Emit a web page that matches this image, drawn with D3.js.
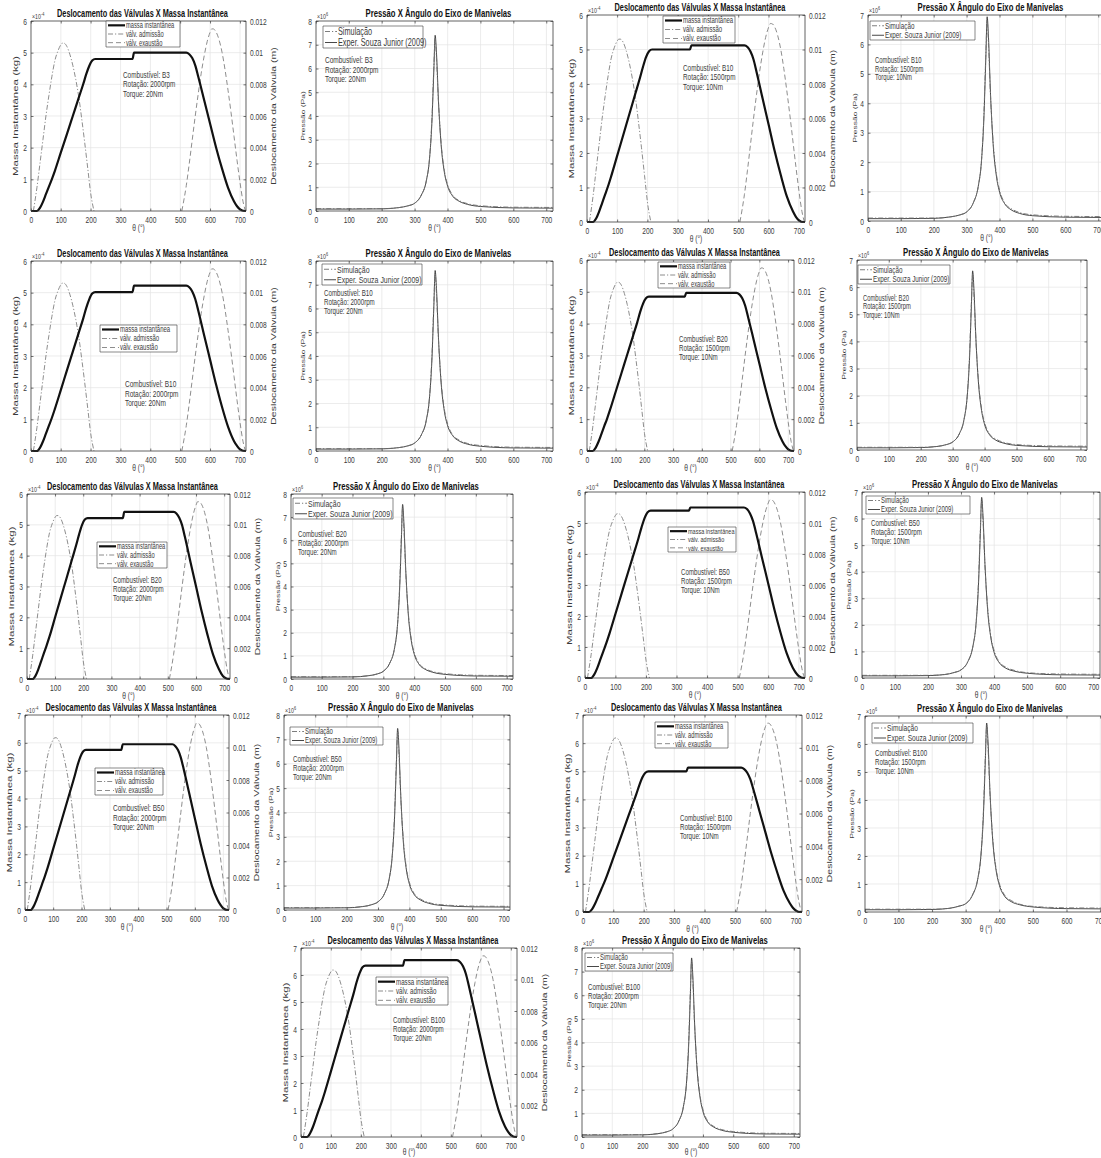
<!DOCTYPE html>
<html>
<head>
<meta charset="utf-8">
<script src="https://cdn.jsdelivr.net/npm/d3@7"></script>
<style>
  body { margin: 0; background: #fff; }
  svg { font-family: "Liberation Sans", Arial, Helvetica, sans-serif; }
</style>
</head>
<body>
<script>
//tick values shared by all subplots
var xTicks = [0, 100, 200, 300, 400, 500, 600, 700];
var valveTicks = [0, 0.002, 0.004, 0.006, 0.008, 0.01, 0.012];

//valve lift (m) - same cams in every run
var intakeTheta  = [8, 20, 30, 40, 50, 60, 70, 80, 90, 100, 105, 110, 120, 130, 140, 150, 160, 170, 180, 190, 200, 211];
var intakeLift   = [0, 0.0015, 0.003, 0.0045, 0.006, 0.0073, 0.0085, 0.0095, 0.0101, 0.0105, 0.0106, 0.0106, 0.0104, 0.0099, 0.0092, 0.0083, 0.0072, 0.0058, 0.0043, 0.0027, 0.0011, 0];
var exhaustTheta = [505, 520, 530, 540, 550, 560, 570, 580, 590, 600, 605, 610, 620, 630, 640, 650, 660, 670, 680, 690, 700, 710, 718];
var exhaustLift  = [0, 0.0016, 0.003, 0.0045, 0.006, 0.0074, 0.0087, 0.0098, 0.0107, 0.0113, 0.0115, 0.0115, 0.0113, 0.0108, 0.0100, 0.0089, 0.0076, 0.0062, 0.0047, 0.0032, 0.0018, 0.0006, 0];

//instantaneous mass (x10^-4 kg)
var massTheta = [0, 20, 30, 40, 50, 60, 70, 80, 100, 120, 140, 160, 175, 185, 195, 205, 215, 340, 345, 520, 530, 540, 550, 560, 580, 600, 620, 640, 660, 680, 690, 700, 715, 720];
var massB3_2000   = [0, 0, 0.1, 0.29, 0.53, 0.77, 1.01, 1.27, 1.85, 2.42, 3.0, 3.58, 4.01, 4.32, 4.58, 4.75, 4.8, 4.8, 5.0, 5.0, 4.95, 4.83, 4.6, 4.25, 3.5, 2.75, 2.0, 1.33, 0.73, 0.3, 0.15, 0.05, 0, 0];
var massB10_1500  = [0, 0, 0.1, 0.3, 0.55, 0.8, 1.05, 1.33, 1.93, 2.53, 3.13, 3.73, 4.18, 4.5, 4.78, 4.95, 5.0, 5.0, 5.12, 5.12, 5.07, 4.94, 4.71, 4.35, 3.58, 2.82, 2.05, 1.36, 0.74, 0.31, 0.15, 0.05, 0, 0];
var massB10_2000  = [0, 0, 0.1, 0.3, 0.55, 0.8, 1.05, 1.33, 1.93, 2.54, 3.14, 3.74, 4.19, 4.52, 4.79, 4.97, 5.02, 5.02, 5.22, 5.22, 5.17, 5.04, 4.8, 4.44, 3.65, 2.87, 2.09, 1.38, 0.76, 0.31, 0.16, 0.05, 0, 0];
var massB20_1500  = [0, 0, 0.1, 0.29, 0.53, 0.78, 1.02, 1.29, 1.87, 2.45, 3.03, 3.61, 4.05, 4.37, 4.63, 4.8, 4.85, 4.85, 4.97, 4.97, 4.92, 4.8, 4.57, 4.22, 3.48, 2.73, 1.99, 1.32, 0.72, 0.3, 0.15, 0.05, 0, 0];
var massB20_2000  = [0, 0, 0.1, 0.31, 0.57, 0.84, 1.1, 1.38, 2.01, 2.64, 3.26, 3.89, 4.36, 4.7, 4.99, 5.17, 5.22, 5.22, 5.42, 5.42, 5.37, 5.23, 4.99, 4.61, 3.79, 2.98, 2.17, 1.44, 0.79, 0.33, 0.16, 0.05, 0, 0];
var massB50_1500  = [0, 0, 0.11, 0.32, 0.59, 0.86, 1.13, 1.43, 2.08, 2.73, 3.38, 4.02, 4.51, 4.86, 5.16, 5.35, 5.4, 5.4, 5.5, 5.5, 5.45, 5.31, 5.06, 4.68, 3.85, 3.03, 2.2, 1.46, 0.8, 0.33, 0.17, 0.06, 0, 0];
var massB50_2000  = [0, 0, 0.12, 0.35, 0.63, 0.92, 1.21, 1.52, 2.21, 2.9, 3.59, 4.28, 4.8, 5.18, 5.49, 5.69, 5.75, 5.75, 5.95, 5.95, 5.89, 5.74, 5.47, 5.06, 4.17, 3.27, 2.38, 1.58, 0.86, 0.36, 0.18, 0.06, 0, 0];
var massB100_1500 = [0, 0, 0.1, 0.3, 0.55, 0.8, 1.05, 1.33, 1.93, 2.53, 3.13, 3.73, 4.18, 4.5, 4.78, 4.95, 5.0, 5.0, 5.13, 5.13, 5.08, 4.95, 4.72, 4.36, 3.59, 2.82, 2.05, 1.36, 0.74, 0.31, 0.15, 0.05, 0, 0];
var massB100_2000 = [0, 0, 0.13, 0.38, 0.7, 1.02, 1.33, 1.68, 2.44, 3.21, 3.97, 4.73, 5.3, 5.72, 6.06, 6.29, 6.35, 6.35, 6.55, 6.55, 6.48, 6.32, 6.03, 5.57, 4.59, 3.6, 2.62, 1.74, 0.95, 0.39, 0.2, 0.07, 0, 0];

//cylinder pressure (x10^6 Pa): experiment and simulation
var presTheta = [0, 100, 200, 250, 280, 300, 320, 335, 345, 352, 358, 362, 366, 372, 380, 390, 400, 415, 435, 460, 500, 600, 720];
var expB3_2000   = [0.08, 0.08, 0.09, 0.14, 0.22, 0.33, 0.67, 1.26, 2.22, 3.7, 5.92, 7.4, 6.66, 4.66, 2.81, 1.63, 1.04, 0.63, 0.41, 0.28, 0.19, 0.13, 0.12];
var simB3_2000   = [0.1, 0.1, 0.1, 0.14, 0.22, 0.33, 0.67, 1.26, 2.22, 3.85, 6.07, 7.25, 6.44, 4.59, 2.89, 1.7, 1.11, 0.67, 0.44, 0.31, 0.22, 0.16, 0.15];
var expB10_1500  = [0.08, 0.08, 0.09, 0.14, 0.21, 0.31, 0.62, 1.18, 2.08, 3.47, 5.55, 6.94, 6.25, 4.37, 2.64, 1.53, 0.97, 0.59, 0.38, 0.26, 0.18, 0.13, 0.12];
var simB10_1500  = [0.1, 0.1, 0.1, 0.14, 0.21, 0.31, 0.62, 1.18, 2.08, 3.61, 5.69, 6.8, 6.04, 4.3, 2.71, 1.6, 1.04, 0.62, 0.42, 0.29, 0.21, 0.16, 0.15];
var expB10_2000  = [0.08, 0.08, 0.09, 0.14, 0.22, 0.34, 0.68, 1.29, 2.28, 3.8, 6.08, 7.6, 6.84, 4.79, 2.89, 1.67, 1.06, 0.65, 0.42, 0.29, 0.2, 0.13, 0.12];
var simB10_2000  = [0.1, 0.1, 0.1, 0.14, 0.22, 0.34, 0.68, 1.29, 2.28, 3.95, 6.23, 7.45, 6.61, 4.71, 2.96, 1.75, 1.14, 0.68, 0.46, 0.32, 0.23, 0.16, 0.15];
var expB20_1500  = [0.08, 0.08, 0.09, 0.13, 0.2, 0.3, 0.59, 1.12, 1.98, 3.3, 5.28, 6.6, 5.94, 4.16, 2.51, 1.45, 0.92, 0.56, 0.36, 0.25, 0.17, 0.12, 0.11];
var simB20_1500  = [0.1, 0.1, 0.1, 0.13, 0.2, 0.3, 0.59, 1.12, 1.98, 3.43, 5.41, 6.47, 5.74, 4.09, 2.57, 1.52, 0.99, 0.59, 0.4, 0.28, 0.2, 0.15, 0.14];
var expB20_2000  = [0.08, 0.08, 0.09, 0.14, 0.22, 0.34, 0.68, 1.28, 2.27, 3.78, 6.04, 7.55, 6.8, 4.76, 2.87, 1.66, 1.06, 0.64, 0.42, 0.29, 0.2, 0.13, 0.12];
var simB20_2000  = [0.1, 0.1, 0.1, 0.14, 0.22, 0.34, 0.68, 1.28, 2.27, 3.93, 6.19, 7.4, 6.57, 4.68, 2.94, 1.74, 1.13, 0.68, 0.45, 0.32, 0.23, 0.16, 0.15];
var expB50_1500  = [0.08, 0.08, 0.09, 0.13, 0.21, 0.31, 0.61, 1.16, 2.04, 3.4, 5.44, 6.8, 6.12, 4.28, 2.58, 1.5, 0.95, 0.58, 0.37, 0.26, 0.18, 0.12, 0.11];
var simB50_1500  = [0.1, 0.1, 0.1, 0.13, 0.21, 0.31, 0.61, 1.16, 2.04, 3.54, 5.58, 6.66, 5.92, 4.22, 2.65, 1.56, 1.02, 0.61, 0.41, 0.29, 0.2, 0.15, 0.14];
var expB50_2000  = [0.08, 0.08, 0.09, 0.14, 0.22, 0.34, 0.67, 1.27, 2.24, 3.73, 5.96, 7.45, 6.71, 4.69, 2.83, 1.64, 1.04, 0.63, 0.41, 0.28, 0.19, 0.13, 0.12];
var simB50_2000  = [0.1, 0.1, 0.1, 0.14, 0.22, 0.34, 0.67, 1.27, 2.24, 3.87, 6.11, 7.3, 6.48, 4.62, 2.91, 1.71, 1.12, 0.67, 0.45, 0.31, 0.22, 0.16, 0.15];
var expB100_1500 = [0.08, 0.08, 0.09, 0.13, 0.21, 0.3, 0.61, 1.15, 2.03, 3.38, 5.4, 6.75, 6.08, 4.25, 2.57, 1.49, 0.95, 0.57, 0.37, 0.26, 0.18, 0.12, 0.11];
var simB100_1500 = [0.1, 0.1, 0.1, 0.13, 0.21, 0.3, 0.61, 1.15, 2.03, 3.51, 5.54, 6.62, 5.87, 4.19, 2.63, 1.55, 1.01, 0.61, 0.41, 0.28, 0.2, 0.15, 0.14];
var expB100_2000 = [0.08, 0.08, 0.09, 0.14, 0.22, 0.34, 0.68, 1.29, 2.27, 3.79, 6.06, 7.58, 6.82, 4.78, 2.88, 1.67, 1.06, 0.64, 0.42, 0.29, 0.2, 0.13, 0.12];
var simB100_2000 = [0.1, 0.1, 0.1, 0.14, 0.22, 0.34, 0.68, 1.29, 2.27, 3.94, 6.22, 7.43, 6.59, 4.7, 2.96, 1.74, 1.14, 0.68, 0.45, 0.32, 0.23, 0.16, 0.15];

//subplot layout (page px): box = [left, top, right, bottom], leg = [x, y, w, h], ann = [x, first line y, line step]
var panels = [
  {kind: "mass", box: [31, 21, 246, 211],   ymax: 6, mass: massB3_2000,   fuel: "B3",   rpm: "2000", nm: "20", leg: [106, 21, 74, 26],  ann: [123, 75, 9.3]},
  {kind: "pres", box: [316, 21, 553, 211],  ymax: 8, exp: expB3_2000, sim: simB3_2000, fuel: "B3", rpm: "2000", nm: "20", leg: [323, 26, 100, 22], ann: [325, 60, 9.5]},
  {kind: "mass", box: [587, 15, 805, 222],  ymax: 6, mass: massB10_1500,  fuel: "B10",  rpm: "1500", nm: "10", leg: [663, 16, 72, 27],  ann: [683, 68, 9.3]},
  {kind: "pres", box: [868, 15, 1105, 221], ymax: 7, exp: expB10_1500, sim: simB10_1500, fuel: "B10", rpm: "1500", nm: "10", leg: [870, 21, 105, 19], ann: [875, 60, 8.6]},

  {kind: "mass", box: [31, 261, 246, 451],  ymax: 6, mass: massB10_2000,  fuel: "B10",  rpm: "2000", nm: "20", leg: [100, 325, 77, 27], ann: [125, 384, 9.5]},
  {kind: "pres", box: [316, 261, 553, 451], ymax: 8, exp: expB10_2000, sim: simB10_2000, fuel: "B10", rpm: "2000", nm: "20", leg: [322, 264, 100, 21], ann: [324, 293, 9]},
  {kind: "mass", box: [587, 260, 794, 451], ymax: 6, mass: massB20_1500,  fuel: "B20",  rpm: "1500", nm: "10", leg: [658, 262, 72, 26], ann: [679, 339, 9]},
  {kind: "pres", box: [857, 260, 1087, 450],ymax: 7, exp: expB20_1500, sim: simB20_1500, fuel: "B20", rpm: "1500", nm: "10", leg: [858, 265, 92, 19], ann: [863, 298, 8.5]},

  {kind: "mass", box: [27, 494, 230, 679],  ymax: 6, mass: massB20_2000,  fuel: "B20",  rpm: "2000", nm: "20", leg: [97, 542, 70, 26],  ann: [113, 580, 9]},
  {kind: "pres", box: [291, 494, 513, 679], ymax: 8, exp: expB20_2000, sim: simB20_2000, fuel: "B20", rpm: "2000", nm: "20", leg: [293, 498, 100, 21], ann: [298, 534, 9]},
  {kind: "mass", box: [585, 492, 805, 678], ymax: 6, mass: massB50_1500,  fuel: "B50",  rpm: "1500", nm: "10", leg: [668, 527, 68, 25], ann: [681, 572, 9]},
  {kind: "pres", box: [862, 492, 1100, 678],ymax: 7, exp: expB50_1500, sim: simB50_1500, fuel: "B50", rpm: "1500", nm: "10", leg: [866, 496, 104, 18], ann: [871, 523, 9]},

  {kind: "mass", box: [25, 715, 229, 910],  ymax: 7, mass: massB50_2000,  fuel: "B50",  rpm: "2000", nm: "20", leg: [95, 768, 68, 27],  ann: [113, 808, 9.5]},
  {kind: "pres", box: [284, 715, 510, 910], ymax: 8, exp: expB50_2000, sim: simB50_2000, fuel: "B50", rpm: "2000", nm: "20", leg: [290, 727, 93, 18], ann: [293, 759, 9]},
  {kind: "mass", box: [583, 715, 802, 912], ymax: 7, mass: massB100_1500, fuel: "B100", rpm: "1500", nm: "10", leg: [655, 722, 73, 26], ann: [680, 818, 9]},
  {kind: "pres", box: [865, 716, 1107, 912],ymax: 7, exp: expB100_1500, sim: simB100_1500, fuel: "B100", rpm: "1500", nm: "10", leg: [872, 723, 101, 20], ann: [875, 753, 9]},

  {kind: "mass", box: [301, 948, 517, 1137],ymax: 7, mass: massB100_2000, fuel: "B100", rpm: "2000", nm: "20", leg: [376, 977, 72, 28], ann: [393, 1020, 9]},
  {kind: "pres", box: [582, 948, 800, 1137],ymax: 8, exp: expB100_2000, sim: simB100_2000, fuel: "B100", rpm: "2000", nm: "20", leg: [585, 953, 88, 18], ann: [588, 987, 9]}
];

//the source figure is squeezed horizontally, so everything is drawn wide and scaled back
var sx = 0.7;
var ink = "#3a3a3a", gridColor = "#e4e4e4";
function X(v) { return v / sx; }

var svg = d3.select("body").append("svg").attr("width", 1101).attr("height", 1158);
svg.append("rect").attr("width", 1101).attr("height", 1158).attr("fill", "#fff");
var root = svg.append("g").attr("transform", "scale(" + sx + ",1)");

function styleAxis(g, fs) {
  g.attr("font-family", null).attr("font-size", fs);
  g.select(".domain").remove();
  g.selectAll("line").attr("stroke", ink).attr("stroke-width", 0.7).attr("vector-effect", "non-scaling-stroke");
  g.selectAll("text").attr("fill", ink);
}

function strokeStyle(sel, st) {
  sel.attr("fill", "none").attr("stroke", st.color).attr("stroke-width", st.width)
     .attr("stroke-dasharray", st.dash || null).attr("vector-effect", "non-scaling-stroke");
}

var massStyle = {color: "#111", width: 2.2};
var intakeStyle = {color: "#808080", width: 0.9, dash: "5,2,1.2,2"};
var exhaustStyle = {color: "#808080", width: 0.9, dash: "5,3"};
var simStyle = {color: "#6e6e6e", width: 0.9, dash: "5,2,1.2,2"};
var expStyle = {color: "#333", width: 0.9};

panels.forEach(function(p) {
  var g = root.append("g");
  var l = X(p.box[0]), t = p.box[1], r = X(p.box[2]), b = p.box[3];
  var x = d3.scaleLinear().domain([0, 720]).range([l, r]);
  var y = d3.scaleLinear().domain([0, p.ymax]).range([b, t]);
  var yTicks = y.ticks(p.ymax);

  //grid
  g.append("g").selectAll("line").data(xTicks.slice(1)).join("line")
    .attr("x1", x).attr("x2", x).attr("y1", t).attr("y2", b)
    .attr("stroke", gridColor).attr("stroke-width", 0.7).attr("vector-effect", "non-scaling-stroke");
  g.append("g").selectAll("line").data(yTicks.slice(1, -1)).join("line")
    .attr("x1", l).attr("x2", r).attr("y1", y).attr("y2", y)
    .attr("stroke", gridColor).attr("stroke-width", 0.7).attr("vector-effect", "non-scaling-stroke");

  var items;
  if (p.kind === "mass") {
    var y2 = d3.scaleLinear().domain([0, 0.012]).range([b, t]);
    var valveLine = d3.line().x(function(d) { return x(d[0]); }).y(function(d) { return y2(d[1]); }).curve(d3.curveMonotoneX);
    var massLine = d3.line().x(function(d) { return x(d[0]); }).y(function(d) { return y(d[1]); }).curve(d3.curveMonotoneX);
    g.append("path").attr("d", valveLine(d3.zip(intakeTheta, intakeLift))).call(strokeStyle, intakeStyle);
    g.append("path").attr("d", valveLine(d3.zip(exhaustTheta, exhaustLift))).call(strokeStyle, exhaustStyle);
    g.append("path").attr("d", massLine(d3.zip(massTheta, p.mass))).call(strokeStyle, massStyle);

    g.append("g").attr("transform", "translate(" + r + ",0)")
      .call(d3.axisRight(y2).tickValues(valveTicks).tickFormat(function(d) { return String(d); })
        .tickSizeInner(-X(2.5)).tickSizeOuter(0).tickPadding(X(4)))
      .call(styleAxis, 9.5);
    items = [
      {label: "massa instantânea", st: massStyle},
      {label: "válv. admissão", st: intakeStyle},
      {label: "válv. exaustão", st: exhaustStyle}
    ];
  } else {
    var presLine = d3.line().x(function(d) { return x(d[0]); }).y(function(d) { return y(d[1]); }).curve(d3.curveMonotoneX);
    g.append("path").attr("d", presLine(d3.zip(presTheta, p.exp))).call(strokeStyle, expStyle);
    g.append("path").attr("d", presLine(d3.zip(presTheta, p.sim))).call(strokeStyle, simStyle);

    g.append("g").attr("transform", "translate(" + r + ",0)")
      .call(d3.axisRight(y).tickValues(yTicks).tickFormat("").tickSizeInner(-X(2.5)).tickSizeOuter(0))
      .call(styleAxis, 9.5);
    items = [
      {label: "Simulação", st: simStyle},
      {label: "Exper. Souza Junior (2009)", st: expStyle}
    ];
  }

  //axes
  g.append("g").attr("transform", "translate(0," + b + ")")
    .call(d3.axisBottom(x).tickValues(xTicks).tickSizeInner(-2.5).tickSizeOuter(0).tickPadding(5))
    .call(styleAxis, 9.5);
  g.append("g").attr("transform", "translate(0," + t + ")")
    .call(d3.axisTop(x).tickValues(xTicks).tickFormat("").tickSizeInner(-2.5).tickSizeOuter(0))
    .call(styleAxis, 9.5);
  g.append("g").attr("transform", "translate(" + l + ",0)")
    .call(d3.axisLeft(y).tickValues(yTicks).tickFormat(function(d) { return String(d); })
      .tickSizeInner(-X(2.5)).tickSizeOuter(0).tickPadding(X(4)))
    .call(styleAxis, 9.5);

  g.append("rect").attr("x", l).attr("y", t).attr("width", r - l).attr("height", b - t)
    .attr("fill", "none").attr("stroke", ink).attr("stroke-width", 0.8).attr("vector-effect", "non-scaling-stroke");

  //legend
  var lx = p.leg[0], ly = p.leg[1], lw = p.leg[2], lh = p.leg[3];
  var sample = p.kind === "mass" ? 17 : 12;
  var rowH = lh / items.length;
  g.append("rect").attr("x", X(lx)).attr("y", ly).attr("width", X(lw)).attr("height", lh)
    .attr("fill", "#fff").attr("stroke", ink).attr("stroke-width", 0.6).attr("vector-effect", "non-scaling-stroke");
  items.forEach(function(it, i) {
    var cy = ly + rowH * (i + 0.5);
    g.append("line").attr("x1", X(lx + 2)).attr("x2", X(lx + 2 + sample)).attr("y1", cy).attr("y2", cy).call(strokeStyle, it.st);
    g.append("text").attr("x", X(lx + 3 + sample)).attr("y", cy).attr("dy", "0.35em")
      .attr("font-size", rowH * 0.95).attr("fill", ink).text(it.label);
  });

  //run conditions
  var annLines = ["Combustível: " + p.fuel, "Rotação: " + p.rpm + "rpm", "Torque: " + p.nm + "Nm"];
  annLines.forEach(function(s, i) {
    g.append("text").attr("x", X(p.ann[0])).attr("y", p.ann[1] + i * p.ann[2]).attr("dy", "0.35em")
      .attr("font-size", p.ann[2] * 0.98).attr("fill", ink).text(s);
  });

  //titles and labels
  var title = p.kind === "mass" ? "Deslocamento das Válvulas X Massa Instantânea" : "Pressão X Ângulo do Eixo de Manivelas";
  g.append("text").attr("x", (l + r) / 2 + X(4)).attr("y", t - 4).attr("text-anchor", "middle")
    .attr("font-size", p.kind === "mass" ? 10.5 : 11).attr("font-weight", "bold").attr("fill", "#111").text(title);

  var ex = g.append("text").attr("x", l + X(1)).attr("y", t - 2).attr("font-size", 7.5).attr("fill", ink).text("×10");
  ex.append("tspan").attr("dy", -3).attr("font-size", 5.5).text(p.kind === "mass" ? "-4" : "6");

  g.append("text").attr("x", (l + r) / 2).attr("y", Math.min(b + 20, 1155)).attr("text-anchor", "middle")
    .attr("font-size", 9.5).attr("fill", ink).text("θ (°)");

  var midY = (t + b) / 2;
  if (p.kind === "mass") {
    g.append("text").attr("transform", "translate(" + X(p.box[0] - 16) + "," + midY + ") rotate(-90)")
      .attr("text-anchor", "middle").attr("dy", "0.35em").attr("font-size", 11.5).attr("fill", ink)
      .text("Massa Instantânea (kg)");
    g.append("text").attr("transform", "translate(" + X(p.box[2] + 27) + "," + midY + ") rotate(-90)")
      .attr("text-anchor", "middle").attr("dy", "0.35em").attr("font-size", 10.5).attr("fill", ink)
      .text("Deslocamento da Válvula (m)");
  } else {
    g.append("text").attr("transform", "translate(" + X(p.box[0] - 13) + "," + midY + ") rotate(-90)")
      .attr("text-anchor", "middle").attr("dy", "0.35em").attr("font-size", 8.5).attr("fill", ink)
      .text("Pressão (Pa)");
  }
});
</script>
</body>
</html>
